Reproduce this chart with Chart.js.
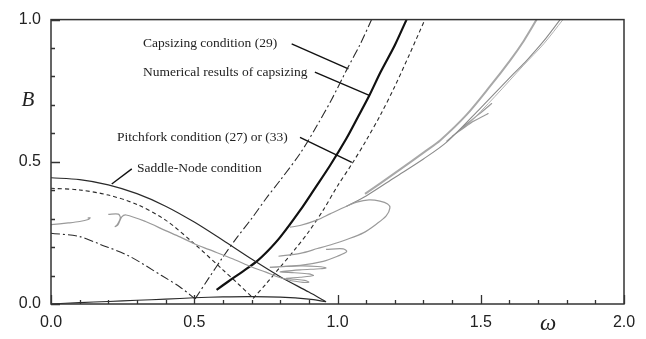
<!DOCTYPE html>
<html>
<head>
<meta charset="utf-8">
<script src="https://cdn.jsdelivr.net/npm/chart.js@4.4.0/dist/chart.umd.min.js"></script>
<style>
  body { margin: 0; background: #fff; }
  #wrap { width: 646px; height: 339px; }
</style>
</head>
<body>
<div id="wrap"><canvas id="bifChart" width="646" height="339"></canvas></div>
<script>
// curves, [omega, B]
const saddleNode = [[0,0.444],[0.1,0.437],[0.2,0.419],[0.3,0.388],[0.4,0.344],[0.5,0.288],[0.6,0.224],[0.7,0.158],[0.8,0.096],[0.9,0.042],[0.96,0.008]];
const pitchforkLeft = [[0,0.407],[0.1,0.401],[0.2,0.383],[0.3,0.35],[0.4,0.295],[0.5,0.212],[0.6,0.12],[0.65,0.074],[0.706,0.02]];
const pitchforkRight = [[0.706,0.02],[0.75,0.07],[0.8,0.13],[0.85,0.19],[0.9,0.255],[0.95,0.33],[1.0,0.415],[1.05,0.492],[1.1,0.575],[1.15,0.665],[1.2,0.765],[1.25,0.875],[1.305,1.0]];
const capsizeLeft = [[0,0.249],[0.1,0.237],[0.171,0.21],[0.27,0.17],[0.386,0.1],[0.45,0.06],[0.503,0.018]];
const capsizeRight = [[0.503,0.018],[0.55,0.09],[0.6,0.165],[0.65,0.235],[0.7,0.3],[0.75,0.37],[0.8,0.435],[0.87,0.53],[0.93,0.63],[0.98,0.72],[1.034,0.827],[1.08,0.915],[1.119,1.0]];
const capsizeNum = [[0.578,0.05],[0.62,0.08],[0.67,0.115],[0.718,0.15],[0.76,0.19],[0.8,0.235],[0.87,0.33],[0.92,0.405],[0.974,0.487],[1.03,0.58],[1.07,0.655],[1.111,0.733],[1.15,0.815],[1.2,0.91],[1.241,1.0]];
const bottomCurve = [[0,0],[0.1,0.005],[0.2,0.009],[0.3,0.013],[0.4,0.017],[0.5,0.022],[0.6,0.025],[0.7,0.026],[0.8,0.024],[0.9,0.017],[0.96,0.008]];

// numerical results (grey)
const numLeftA = [[0,0.279],[0.06,0.285],[0.1,0.29],[0.13,0.297],[0.137,0.303],[0.128,0.302]];
const numLeftB = [[0.2,0.315],[0.235,0.316],[0.242,0.303],[0.232,0.28],[0.224,0.272],[0.234,0.279],[0.247,0.306],[0.262,0.313],[0.33,0.29],[0.4,0.258],[0.45,0.236],[0.5,0.212],[0.55,0.192],[0.636,0.158],[0.7,0.13],[0.75,0.112],[0.79,0.096],[0.84,0.082]];
const numSpiral = [[0.84,0.082],[0.88,0.076],[0.9,0.077],[0.885,0.083],[0.85,0.087],[0.82,0.09],[0.87,0.094],[0.916,0.1],[0.9,0.106],[0.85,0.11],[0.8,0.113],[0.87,0.12],[0.94,0.124],[0.96,0.127],[0.93,0.132],[0.87,0.134],[0.764,0.129]];
const numMedium = [[0.764,0.129],[0.87,0.136],[0.95,0.15],[1.0,0.168],[1.032,0.184],[1.02,0.194],[0.96,0.192]];
const numBig = [[0.834,0.27],[0.869,0.276],[0.93,0.296],[0.974,0.317],[1.03,0.343],[1.067,0.358],[1.11,0.366],[1.148,0.362],[1.175,0.352],[1.183,0.338],[1.17,0.31],[1.137,0.282],[1.09,0.25],[1.03,0.226],[0.985,0.211],[0.93,0.195],[0.87,0.178],[0.794,0.168]];
const strandInner = [[1.03,0.343],[1.1,0.38],[1.2,0.445],[1.3,0.51],[1.381,0.569],[1.5,0.69],[1.614,0.809],[1.66,0.856],[1.72,0.925],[1.777,1.0]];
const strandInner2 = [[1.45,0.625],[1.55,0.73],[1.65,0.84],[1.72,0.915],[1.787,1.0]];
const strandOuter = [[1.096,0.387],[1.2,0.46],[1.311,0.54],[1.358,0.575],[1.45,0.665],[1.532,0.765],[1.602,0.856],[1.65,0.925],[1.695,1.0]];
const feathers = [[1.38,0.572],[1.46,0.64],[1.538,0.705],[1.5,0.672],[1.44,0.625],[1.526,0.67],[1.47,0.64],[1.40,0.59]];

// leader lines from labels to curves
const leaderCaps = [[0.84,0.915],[1.038,0.827]];
const leaderNum = [[0.921,0.815],[1.113,0.733]];
const leaderPitch = [[0.869,0.586],[1.05,0.498]];
const leaderSaddle = [[0.282,0.475],[0.212,0.422]];

const labelTexts = ['Capsizing condition (29)', 'Numerical results of capsizing', 'Pitchfork condition (27) or (33)', 'Saddle-Node condition'];
const labelAt = [[0.321,0.915],[0.321,0.815],[0.23,0.586],[0.3,0.475]];

function pts(a){ return a.map(p => ({x: p[0], y: p[1]})); }

function curve(data, color, width, dash, tension){
    return {
        data: pts(data),
        showLine: true,
        borderColor: color,
        borderWidth: width,
        borderDash: dash || [],
        pointRadius: 0,
        fill: false,
        tension: tension === undefined ? 0.3 : tension
    };
}

const grey = '#9a9a9a';
const dark = '#2a2a2a';
const dashed = [4,3];
const dashDot = [9,3,2,3];

function isMajor(v){ return Math.abs(v*2 - Math.round(v*2)) < 1e-6; }

const decor = {
    id: 'decor',
    afterDraw(chart){
        const ctx = chart.ctx;
        const a = chart.chartArea;
        const xs = chart.scales.x, ys = chart.scales.y;
        ctx.save();
        ctx.strokeStyle = '#333';
        ctx.lineWidth = 1.5;
        ctx.strokeRect(a.left, a.top, a.right - a.left, a.bottom - a.top);
        ctx.lineWidth = 1.3;
        ctx.beginPath();
        for (const t of xs.ticks) {
            const px = Math.round(xs.getPixelForValue(t.value)) + 0.5;
            const len = isMajor(t.value) ? 9 : 4;
            ctx.moveTo(px, a.bottom); ctx.lineTo(px, a.bottom - len);
        }
        for (const t of ys.ticks) {
            const py = Math.round(ys.getPixelForValue(t.value)) + 0.5;
            const len = isMajor(t.value) ? 9 : 4;
            ctx.moveTo(a.left, py); ctx.lineTo(a.left + len, py);
        }
        ctx.stroke();

        // curve labels
        ctx.fillStyle = '#222';
        ctx.font = '13.5px "Liberation Serif", serif';
        ctx.textAlign = 'left';
        ctx.textBaseline = 'middle';
        labelTexts.forEach((s, i) => {
            ctx.fillText(s, xs.getPixelForValue(labelAt[i][0]), ys.getPixelForValue(labelAt[i][1]));
        });

        // axis titles
        ctx.font = 'italic 21px "Liberation Serif", serif';
        ctx.textAlign = 'center';
        ctx.fillText('B', 28, 100);
        ctx.font = 'italic 23px "Liberation Serif", serif';
        ctx.fillText('\u03c9', 548, 324);
        ctx.restore();
    }
};

new Chart('bifChart', {
    type: 'scatter',
    data: {
        datasets: [
            curve(numLeftA, grey, 1.2),
            curve(numLeftB, grey, 1.2),
            curve(numSpiral, grey, 1.1),
            curve(numMedium, grey, 1.2),
            curve(numBig, grey, 1.2),
            curve(strandInner, '#8a8a8a', 1.1),
            curve(strandInner2, '#b0b0b0', 1),
            curve(strandOuter, '#a8a8a8', 2),
            curve(feathers, grey, 1.1, [], 0.1),
            curve(bottomCurve, dark, 1.1),
            curve(saddleNode, dark, 1.2),
            curve(pitchforkLeft, dark, 1.1, dashed),
            curve(pitchforkRight, dark, 1.1, dashed),
            curve(capsizeLeft, dark, 1.1, dashDot),
            curve(capsizeRight, dark, 1.1, dashDot),
            curve(capsizeNum, '#111', 2.2),
            curve(leaderCaps, '#111', 1.4, [], 0),
            curve(leaderNum, '#111', 1.4, [], 0),
            curve(leaderPitch, '#111', 1.4, [], 0),
            curve(leaderSaddle, '#111', 1.4, [], 0)
        ]
    },
    options: {
        responsive: false,
        animation: false,
        layout: { padding: { top: 19, right: 22, left: 0, bottom: 0 } },
        plugins: { legend: { display: false }, tooltip: { enabled: false } },
        scales: {
            x: {
                type: 'linear', min: 0, max: 2,
                grid: { display: false, drawTicks: false },
                border: { display: false },
                afterFit(s){ s.height = 35; },
                ticks: {
                    stepSize: 0.1, autoSkip: false, maxRotation: 0, padding: 9,
                    color: '#222', font: { family: '"Liberation Sans", Arial, sans-serif', size: 16 },
                    callback: v => isMajor(v) ? v.toFixed(1) : ''
                }
            },
            y: {
                type: 'linear', min: 0, max: 1,
                grid: { display: false, drawTicks: false },
                border: { display: false },
                afterFit(s){ s.width = 51; },
                ticks: {
                    stepSize: 0.1, autoSkip: false, padding: 10,
                    color: '#222', font: { family: '"Liberation Sans", Arial, sans-serif', size: 16 },
                    callback: v => isMajor(v) ? v.toFixed(1) : ''
                }
            }
        }
    },
    plugins: [decor]
});
</script>
</body>
</html>
